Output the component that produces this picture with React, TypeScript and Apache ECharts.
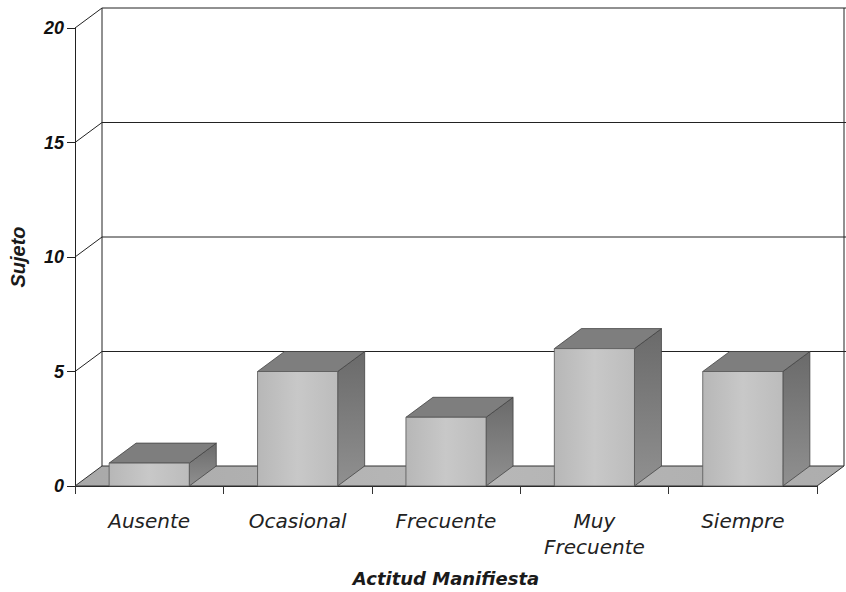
import React, { useEffect, useRef } from "react";
import * as echarts from "echarts";

const categories = ["Ausente", "Ocasional", "Frecuente", "Muy\nFrecuente", "Siempre"];
const values = [1, 5, 3, 6, 5];
const yTicks = [0, 5, 10, 15, 20];

const DX = 27;
const DY = -20;
const BAR_RATIO = 0.54;

export default function App() {
  const ref = useRef<HTMLDivElement>(null);
  useEffect(() => {
    if (!ref.current) return;
    const chart = echarts.init(ref.current, undefined, { renderer: "svg" });
    const lineStyle = { stroke: "#222", lineWidth: 1 };

    const frameRender = (params: any, api: any) => {
      const v = api.value(1);
      const band = api.size([1, 0])[0];
      const p = api.coord([0, v]);
      const left = p[0] - band / 2;
      const right = api.coord([categories.length - 1, v])[0] + band / 2;
      const y = p[1];
      const children: any[] = [];
      if (v === 0) {
        const yTop = api.coord([0, yTicks[yTicks.length - 1]])[1];
        children.push({
          type: "polygon",
          shape: { points: [[left, y], [right, y], [right + DX, y + DY], [left + DX, y + DY]] },
          style: {
            fill: new echarts.graphic.LinearGradient(0, 0, 1, 0, [
              { offset: 0, color: "#a9a9a9" },
              { offset: 0.5, color: "#b8b8b8" },
              { offset: 1, color: "#adadad" },
            ]),
            stroke: "#333",
            lineWidth: 1,
          },
        });
        children.push({ type: "line", shape: { x1: left + DX, y1: y + DY, x2: left + DX, y2: yTop + DY }, style: lineStyle });
        children.push({ type: "line", shape: { x1: right + DX, y1: y + DY, x2: right + DX, y2: yTop + DY }, style: lineStyle });
      } else {
        children.push({ type: "line", shape: { x1: left, y1: y, x2: left + DX, y2: y + DY }, style: lineStyle });
        children.push({ type: "line", shape: { x1: left + DX, y1: y + DY, x2: right + DX + 4, y2: y + DY }, style: lineStyle });
      }
      return { type: "group", children };
    };

    const barRender = (params: any, api: any) => {
      const i = api.value(0);
      const v = api.value(1);
      const band = api.size([1, 0])[0];
      const w = band * BAR_RATIO;
      const pTop = api.coord([i, v]);
      const pBase = api.coord([i, 0]);
      const x0 = pTop[0] - w / 2;
      const x1 = x0 + w;
      const yT = pTop[1];
      const yB = pBase[1];
      return {
        type: "group",
        children: [
          {
            type: "polygon",
            shape: { points: [[x1, yT], [x1 + DX, yT + DY], [x1 + DX, yB + DY], [x1, yB]] },
            style: {
              fill: new echarts.graphic.LinearGradient(0, 0, 0, 1, [
                { offset: 0, color: "#6a6a6a" },
                { offset: 1, color: "#909090" },
              ]),
              stroke: "#444",
              lineWidth: 0.8,
            },
          },
          {
            type: "polygon",
            shape: { points: [[x0, yT], [x1, yT], [x1 + DX, yT + DY], [x0 + DX, yT + DY]] },
            style: { fill: "#7e7e7e", stroke: "#444", lineWidth: 0.8 },
          },
          {
            type: "rect",
            shape: { x: x0, y: yT, width: w, height: yB - yT },
            style: {
              fill: new echarts.graphic.LinearGradient(0, 0, 1, 0, [
                { offset: 0, color: "#b7b7b7" },
                { offset: 0.5, color: "#c8c8c8" },
                { offset: 1, color: "#bcbcbc" },
              ]),
              stroke: "#555",
              lineWidth: 0.8,
            },
          },
        ],
      };
    };

    const boldItalic = {
      fontFamily: "Liberation Sans",
      fontStyle: "italic" as const,
      fontWeight: "bold" as const,
    };

    chart.setOption({
      animation: false,
      backgroundColor: "#ffffff",
      grid: { left: 74, right: 29, top: 28, bottom: 104, containLabel: false },
      xAxis: {
        type: "category",
        data: categories,
        boundaryGap: true,
        axisLine: { show: true, lineStyle: { color: "#222", width: 1 } },
        axisTick: { show: true, length: 8, interval: 0, lineStyle: { color: "#333" } },
        axisLabel: {
          interval: 0,
          margin: 22,
          fontFamily: "DejaVu Sans",
          fontStyle: "italic",
          fontSize: 20,
          lineHeight: 26,
          color: "#222",
        },
        name: "Actitud Manifiesta",
        nameLocation: "middle",
        nameGap: 83,
        nameTextStyle: {
          fontFamily: "DejaVu Sans",
          fontStyle: "italic",
          fontWeight: "bold",
          fontSize: 18,
          color: "#1a1a1a",
        },
      },
      yAxis: {
        type: "value",
        min: 0,
        max: 20,
        interval: 5,
        splitLine: { show: false },
        axisLine: { show: true, lineStyle: { color: "#222", width: 1 } },
        axisTick: { show: true, length: 8, lineStyle: { color: "#222" } },
        axisLabel: { ...boldItalic, margin: 11, fontSize: 18, color: "#111" },
        name: "Sujeto",
        nameLocation: "middle",
        nameRotate: 90,
        nameGap: 47,
        nameTextStyle: { ...boldItalic, fontSize: 20, color: "#1a1a1a" },
      },
      series: [
        {
          type: "custom",
          silent: true,
          z: 1,
          renderItem: frameRender,
          data: yTicks.map((v) => [0, v]),
          encode: { x: 0, y: 1 },
        },
        {
          type: "custom",
          silent: true,
          z: 3,
          renderItem: barRender,
          data: values.map((v, i) => [i, v]),
          encode: { x: 0, y: 1 },
        },
      ],
    });
    return () => chart.dispose();
  }, []);
  return (
    <div
      ref={ref}
      style={{ position: "fixed", left: 0, top: 0, width: 846, height: 592, background: "#fff" }}
    />
  );
}
